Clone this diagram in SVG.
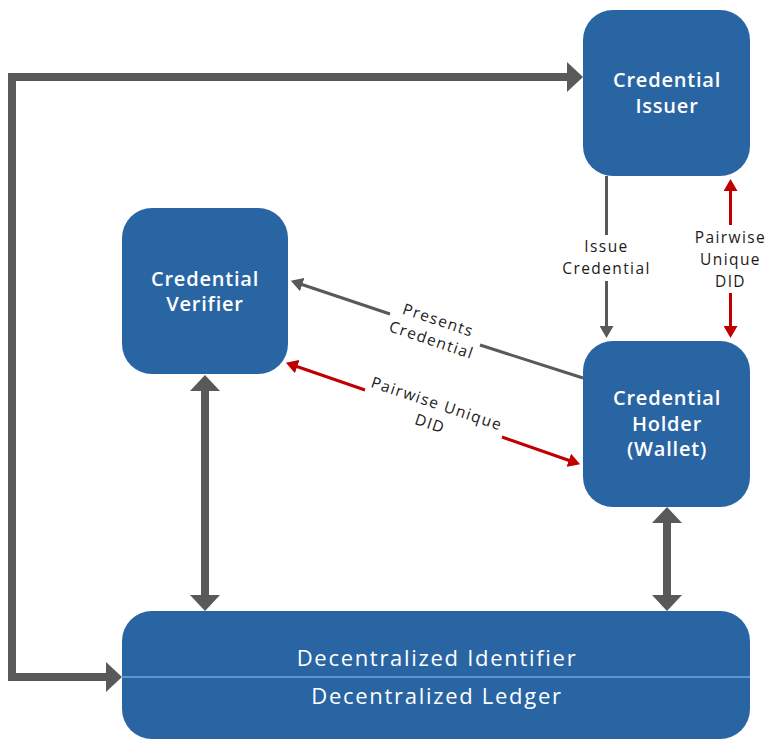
<svg xmlns="http://www.w3.org/2000/svg" width="771" height="740" viewBox="0 0 771 740">
<style>
.box{fill:#2a65a3}
.title{font-family:"Open Sans","Liberation Sans",sans-serif;font-weight:600;font-size:20px;fill:#fff;text-anchor:middle;letter-spacing:0.8px}
.ledger{font-family:"Open Sans","Liberation Sans",sans-serif;font-weight:500;font-size:22px;fill:#fff;text-anchor:middle;letter-spacing:1.7px}
.lbl{font-family:"Open Sans","Liberation Sans",sans-serif;font-size:15.5px;fill:#1a1a1a;text-anchor:middle;letter-spacing:1.4px}
.thick{stroke:#595959;stroke-width:8;fill:none}
.gray{stroke:#595959;stroke-width:3;fill:none}
.red{stroke:#c00000;stroke-width:3;fill:none}
</style>
<defs>
<marker id="mThick" markerUnits="userSpaceOnUse" viewBox="0 0 16 30" refX="6" refY="15" markerWidth="16" markerHeight="30" orient="auto-start-reverse">
<path d="M0,0 L16,15 L0,30 z" fill="#595959"/>
</marker>
<marker id="mGray" markerUnits="userSpaceOnUse" viewBox="0 0 12 14" refX="5" refY="7" markerWidth="12" markerHeight="14" orient="auto-start-reverse">
<path d="M0,0 L12,7 L0,14 z" fill="#595959"/>
</marker>
<marker id="mRed" markerUnits="userSpaceOnUse" viewBox="0 0 12 14" refX="5" refY="7" markerWidth="12" markerHeight="14" orient="auto-start-reverse">
<path d="M0,0 L12,7 L0,14 z" fill="#c00000"/>
</marker>
</defs>
<rect width="771" height="740" fill="#fff"/>
<g id="connectors">
<path class="thick" d="M112,677 L12,677 L12,77 L573,77" marker-start="url(#mThick)" marker-end="url(#mThick)"/>
<path class="thick" d="M205,385 L205,601" marker-start="url(#mThick)" marker-end="url(#mThick)"/>
<path class="thick" d="M667,517 L667,601" marker-start="url(#mThick)" marker-end="url(#mThick)"/>
<path class="gray" d="M606.5,176 L606.5,235"/>
<path class="gray" d="M606.5,281 L606.5,331" marker-end="url(#mGray)"/>
<text class="lbl" x="606.5" y="252">Issue</text>
<text class="lbl" x="606.5" y="274">Credential</text>
<path class="red" d="M730.5,186 L730.5,225" marker-start="url(#mRed)"/>
<path class="red" d="M730.5,293 L730.5,331" marker-end="url(#mRed)"/>
<text class="lbl" x="730.5" y="243">Pairwise</text>
<text class="lbl" x="730.5" y="265">Unique</text>
<text class="lbl" x="730.5" y="287">DID</text>
<path class="gray" d="M583,378 L480,345"/>
<path class="gray" d="M390,314 L297.5,283" marker-end="url(#mGray)"/>
<g transform="translate(435,330) rotate(18.6)">
<text class="lbl" x="0" y="-5">Presents</text>
<text class="lbl" x="0" y="16">Credential</text>
</g>
<path class="red" d="M292.5,365 L365,390" marker-start="url(#mRed)"/>
<path class="red" d="M502,437 L573.5,462" marker-end="url(#mRed)"/>
<g transform="translate(433.5,413.5) rotate(18.6)">
<text class="lbl" x="0" y="-5">Pairwise Unique</text>
<text class="lbl" x="0" y="16">DID</text>
</g>
</g>
<g id="issuer">
<rect class="box" x="583" y="10" width="167" height="166" rx="30"/>
<text class="title" x="667" y="87">Credential</text>
<text class="title" x="667" y="113">Issuer</text>
</g>
<g id="verifier">
<rect class="box" x="122" y="208" width="166" height="166" rx="30"/>
<text class="title" x="205" y="286">Credential</text>
<text class="title" x="205" y="311">Verifier</text>
</g>
<g id="holder">
<rect class="box" x="583" y="341" width="167" height="166" rx="30"/>
<text class="title" x="667" y="405">Credential</text>
<text class="title" x="667" y="431">Holder</text>
<text class="title" x="667" y="456">(Wallet)</text>
</g>
<g id="ledger">
<rect class="box" x="122" y="611" width="628" height="128" rx="30"/>
<line x1="122" y1="677" x2="750" y2="677" stroke="#6fa8dc" stroke-width="1.5"/>
<text class="ledger" x="437" y="666">Decentralized Identifier</text>
<text class="ledger" x="437" y="704">Decentralized Ledger</text>
</g>
</svg>
